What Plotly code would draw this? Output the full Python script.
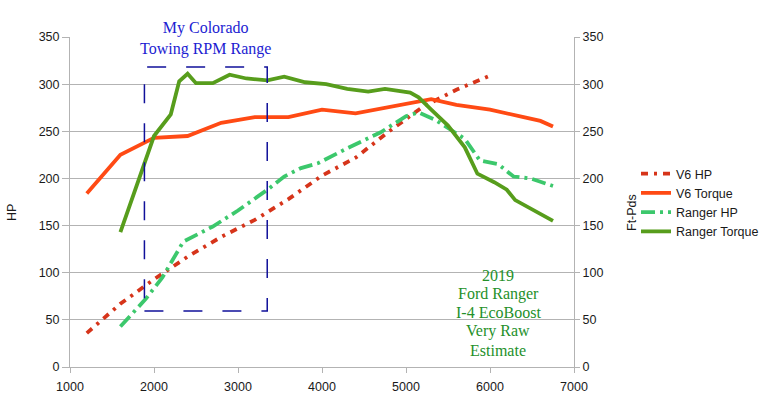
import plotly.graph_objects as go

# ---- data ----
v6_hp_rpm = [1200, 1600, 2000, 2400, 2800, 3200, 3600, 4000, 4400, 4800, 5200, 5600, 6000]
v6_hp = [36, 67, 93, 117, 138, 156, 178, 203, 222, 250, 276, 294, 309]

v6_tq_rpm = [1200, 1600, 2000, 2400, 2800, 3200, 3600, 4000, 4400, 4800, 5200, 5300, 5600, 6000, 6400, 6600, 6750]
v6_tq = [184, 225, 243, 245, 259, 265, 265, 273, 269, 276, 282, 284, 278, 273, 265, 261, 255]

rg_hp_rpm = [1600, 1900, 2100, 2350, 2700, 3000, 3350, 3550, 3750, 3950, 4300, 4700, 5000, 5150,
             5350, 5550, 5700, 5880, 6100, 6280, 6480, 6750]
rg_hp = [43, 72, 95, 133, 149, 166, 188, 202, 211, 216, 232, 249, 266, 270,
         262, 251, 242, 219, 215, 202, 200, 192]

rg_tq_rpm = [1600, 1850, 2000, 2200, 2300, 2400, 2500, 2700, 2900, 3100, 3350, 3550, 3800, 4050,
             4300, 4550, 4750, 5050, 5150, 5300, 5500, 5700, 5850, 6050, 6200, 6300, 6450, 6600, 6750]
rg_tq = [143, 206, 245, 268, 303, 311, 301, 301, 310, 306, 304, 308, 302, 300,
         295, 292, 295, 291, 286, 273, 256, 233, 205, 196, 188, 177, 170, 163, 155]

x_ticks = [1000, 2000, 3000, 4000, 5000, 6000, 7000]
y_ticks = [0, 50, 100, 150, 200, 250, 300, 350]

towing_range = [1886, 3348]   # rpm
towing_box_y = [59.3, 318.2]

title_text = "My Colorado<br>Towing RPM Range"
ranger_note = ["2019", "Ford Ranger", "I-4 EcoBoost", "Very Raw", "Estimate"]

# ---- styling ----
GRID = "#b3b3b3"
SANS = "Liberation Sans, Arial, sans-serif"
SERIF = "Liberation Serif, Times New Roman, serif"
TXT = "#1a1a1a"

fig = go.Figure()
fig.add_trace(go.Scatter(x=v6_hp_rpm, y=v6_hp, mode="lines", name="V6 HP",
                         line=dict(color="#d6341a", width=3.8, dash="7px,6px,3px,6px")))
fig.add_trace(go.Scatter(x=v6_tq_rpm, y=v6_tq, mode="lines", name="V6 Torque", yaxis="y2",
                         line=dict(color="#ff4a14", width=3.8)))
fig.add_trace(go.Scatter(x=rg_hp_rpm, y=rg_hp, mode="lines", name="Ranger HP",
                         line=dict(color="#3cc86c", width=3.8, dash="14px,5px,3px,5px")))
fig.add_trace(go.Scatter(x=rg_tq_rpm, y=rg_tq, mode="lines", name="Ranger Torque", yaxis="y2",
                         line=dict(color="#579d1c", width=3.8)))

L, R, T, B = 70, 194, 37, 43
W, H = 768, 410
pw = W - L - R
ph = H - T - B


def px_x(p):
    return (p - L) / pw


def px_y(p):
    return (H - B - p) / ph


fig.update_layout(
    width=W, height=H,
    margin=dict(l=L, r=R, t=T, b=B, autoexpand=False),
    paper_bgcolor="white", plot_bgcolor="white",
    font=dict(family=SANS, size=12.5, color=TXT),
    showlegend=True,
    legend=dict(x=px_x(636), y=px_y(159), xanchor="left", yanchor="top",
                font=dict(family=SANS, size=12.5, color=TXT),
                itemwidth=30, tracegroupgap=0, bgcolor="rgba(0,0,0,0)"),
    xaxis=dict(range=[1000, 7000], tickvals=x_ticks, showgrid=False, zeroline=False,
               showline=True, linecolor=GRID, linewidth=1, ticks="outside", ticklen=5,
               tickcolor=GRID, ticklabelstandoff=3,
               tickfont=dict(family=SANS, size=12.5, color=TXT)),
    yaxis=dict(range=[0, 350], tickvals=y_ticks, showgrid=True, gridcolor=GRID, gridwidth=1,
               zeroline=False, showline=True, linecolor=GRID, ticks="outside", ticklen=7,
               tickcolor=GRID, tickfont=dict(family=SANS, size=12.5, color=TXT)),
    yaxis2=dict(range=[0, 350], tickvals=y_ticks, overlaying="y", side="right", showgrid=False,
                zeroline=False, showline=True, linecolor=GRID, ticks="outside", ticklen=5,
                tickcolor=GRID, tickfont=dict(family=SANS, size=12.5, color=TXT)),
)

fig.add_shape(type="rect", xref="x", yref="y",
              x0=towing_range[0], x1=towing_range[1], y0=towing_box_y[0], y1=towing_box_y[1],
              line=dict(color="#10109a", width=1.5, dash="19px,20px"))

annots = [
    dict(text="HP", xref="paper", yref="paper", x=px_x(12), y=px_y(213), textangle=-90,
         showarrow=False, font=dict(family=SANS, size=12.5, color=TXT),
         xanchor="center", yanchor="middle"),
    dict(text="Ft-Pds", xref="paper", yref="paper", x=px_x(632), y=px_y(213), textangle=-90,
         showarrow=False, font=dict(family=SANS, size=12.5, color=TXT),
         xanchor="center", yanchor="middle"),
    dict(text=title_text, xref="paper", yref="paper", x=px_x(205.5), y=px_y(38),
         showarrow=False, font=dict(family=SERIF, size=16, color="#1c1cd2"),
         xanchor="center", yanchor="middle"),
]
line_y = [275, 293.7, 312.5, 331.2, 350]
for txt, yy in zip(ranger_note, line_y):
    annots.append(dict(text=txt, xref="paper", yref="paper", x=px_x(498), y=px_y(yy),
                       showarrow=False, font=dict(family=SERIF, size=16, color="#24902a"),
                       xanchor="center", yanchor="middle"))
fig.update_layout(annotations=annots)

fig.write_html("out.html")
